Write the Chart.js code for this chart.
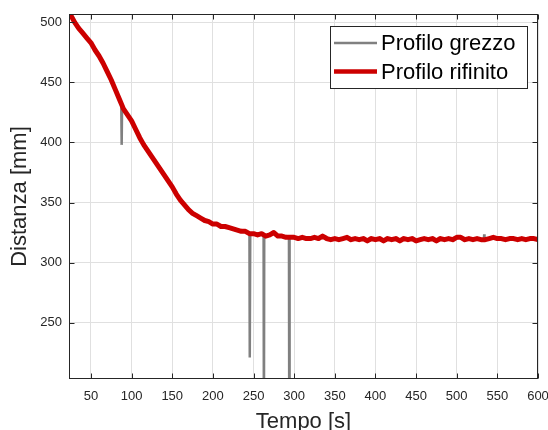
<!DOCTYPE html>
<html>
<head>
<meta charset="utf-8">
<script src="https://cdn.jsdelivr.net/npm/chart.js@4.4.1/dist/chart.umd.min.js"></script>
<style>
  html, body { margin: 0; padding: 0; background: #fff; }
</style>
</head>
<body>
<canvas id="mycanvas" width="548" height="430"></canvas>
<script>
// tempo [s] e distanza [mm]
var time = [26, 30, 35, 40, 45, 50, 55, 60, 65, 70, 75, 80, 85, 90, 95, 100,
  105, 110, 115, 120, 125, 130, 135, 140, 145, 150, 155, 160, 165, 170, 175, 180,
  185, 190, 195, 200, 205, 210, 215, 220, 225, 230, 235, 240, 245, 250, 255, 260,
  265, 270, 275, 280, 285, 290, 295, 300, 305, 310, 315, 320, 325, 330, 335, 340,
  345, 350, 355, 360, 365, 370, 375, 380, 385, 390, 395, 400, 405, 410, 415, 420,
  425, 430, 435, 440, 445, 450, 455, 460, 465, 470, 475, 480, 485, 490, 495, 500,
  505, 510, 515, 520, 525, 530, 535, 540, 545, 550, 555, 560, 565, 570, 575, 580,
  585, 590, 595, 600];

var refined = [505, 500, 495, 491, 487, 483, 477, 472, 466, 459, 452, 444, 436, 428, 423, 418,
  411, 404, 398, 393, 388, 383, 378, 373, 368, 363, 357, 352, 348, 344, 341, 339,
  337, 335, 334, 332, 332, 330, 330, 329, 328, 327, 326, 326, 324, 324, 323, 324,
  322, 323, 325, 322, 322, 321, 321, 321, 320, 321, 320, 320, 321, 320, 322, 320,
  319, 320, 319, 320, 321, 319, 320, 319, 320, 318, 320, 319, 320, 318, 320, 319,
  320, 318, 320, 319, 320, 318, 319, 320, 319, 320, 318, 320, 319, 320, 319, 321,
  321, 319, 320, 319, 320, 319, 319, 320, 321, 320, 320, 319, 320, 320, 319, 320,
  319, 320, 320, 319];

// picchi del profilo grezzo
var spikeTime = [87.3, 87.8, 88.3, 245.2, 245.6, 246.0, 262.4, 262.8, 263.2,
  293.6, 294.0, 294.4, 533.4, 533.8, 534.2];
var spikeDist = [431, 398, 430, 324, 221, 324, 323, 150, 323,
  321, 150, 321, 319, 323.5, 319];

var xTicks = [50, 100, 150, 200, 250, 300, 350, 400, 450, 500, 550, 600];
var yTicks = [250, 300, 350, 400, 450, 500];
var seriesNames = ["Profilo grezzo", "Profilo rifinito"];

var FONT = "'Liberation Sans', Arial, sans-serif";

var refinedPoints = time.map(function(t, i) { return {x: t, y: refined[i]}; });
var rawPoints = refinedPoints.concat(spikeTime.map(function(t, i) {
  return {x: t, y: spikeDist[i]};
})).sort(function(a, b) { return a.x - b.x; });

// cornice e tacche interne (stile matlab)
var frame = {
  id: 'frame',
  afterDatasetsDraw: function(chart) {
    var ctx = chart.ctx, a = chart.chartArea;
    var xs = chart.scales.x, ys = chart.scales.y;
    var L = Math.round(a.left) + 0.5, R = Math.round(a.right) - 0.5;
    var T = Math.round(a.top) + 0.5, B = Math.round(a.bottom) - 0.5;
    ctx.save();
    ctx.strokeStyle = '#262626';
    ctx.lineWidth = 1;
    ctx.strokeRect(L, T, R - L, B - T);
    ctx.beginPath();
    xTicks.forEach(function(v) {
      var px = Math.round(xs.getPixelForValue(v)) + 0.5;
      ctx.moveTo(px, B); ctx.lineTo(px, B - 5);
      ctx.moveTo(px, T); ctx.lineTo(px, T + 5);
    });
    yTicks.forEach(function(v) {
      var py = Math.round(ys.getPixelForValue(v)) + 0.5;
      ctx.moveTo(L, py); ctx.lineTo(L + 5, py);
      ctx.moveTo(R, py); ctx.lineTo(R - 5, py);
    });
    ctx.stroke();
    ctx.restore();
  }
};

var legendBox = {
  id: 'legendBox',
  afterDraw: function(chart) {
    var ctx = chart.ctx, a = chart.chartArea;
    var w = 197, h = 62;
    var x0 = Math.round(a.right) - 11 - w, y0 = Math.round(a.top) + 12;
    ctx.save();
    ctx.fillStyle = '#fff';
    ctx.fillRect(x0, y0, w, h);
    ctx.strokeStyle = '#262626';
    ctx.lineWidth = 1;
    ctx.strokeRect(x0 + 0.5, y0 + 0.5, w, h);
    var rows = [17, 45.5];
    chart.data.datasets.forEach(function(ds, i) {
      var y = y0 + rows[i];
      ctx.beginPath();
      ctx.strokeStyle = ds.borderColor;
      ctx.lineWidth = i === 0 ? 2.5 : 4.5;
      ctx.moveTo(x0 + 4, y); ctx.lineTo(x0 + 47, y);
      ctx.stroke();
      ctx.fillStyle = '#000';
      ctx.font = '22px ' + FONT;
      ctx.textBaseline = 'middle';
      ctx.fillText(ds.label, x0 + 51, y + 1);
    });
    ctx.restore();
  }
};

var ctx = document.getElementById('mycanvas');

var LineGraph = new Chart(ctx, {
  type: 'line',
  data: {
    datasets: [
      {
        label: seriesNames[0],
        data: rawPoints,
        borderColor: '#808080',
        borderWidth: 2.5,
        pointRadius: 0,
        tension: 0,
        fill: false,
        order: 2,
        clip: 0
      },
      {
        label: seriesNames[1],
        data: refinedPoints,
        borderColor: '#cc0000',
        borderWidth: 5,
        borderCapStyle: 'round',
        borderJoinStyle: 'round',
        pointRadius: 0,
        tension: 0,
        fill: false,
        order: 1
      }
    ]
  },
  options: {
    responsive: false,
    animation: false,
    devicePixelRatio: 1,
    layout: { padding: { top: 14, right: 10, left: 0, bottom: 0 } },
    plugins: { legend: { display: false }, tooltip: { enabled: false } },
    scales: {
      x: {
        type: 'linear',
        min: 23, max: 600,
        afterBuildTicks: function(s) { s.ticks = xTicks.map(function(v) { return {value: v}; }); },
        afterFit: function(s) { s.height = 51; s.paddingLeft = 0; s.paddingRight = 0; },
        grid: { color: '#e0e0e0', drawTicks: false },
        border: { display: false },
        ticks: { color: '#262626', font: { family: FONT, size: 13 }, padding: 10, maxRotation: 0 },
        title: { display: true, text: 'Tempo [s]', color: '#262626',
          font: { family: FONT, size: 22, lineHeight: 1 }, padding: { top: 0, bottom: -3 } }
      },
      y: {
        type: 'linear',
        min: 203, max: 507,
        afterBuildTicks: function(s) { s.ticks = yTicks.map(function(v) { return {value: v}; }); },
        afterFit: function(s) { s.width = 69; s.paddingTop = 0; s.paddingBottom = 0; },
        grid: { color: '#e0e0e0', drawTicks: false },
        border: { display: false },
        ticks: { color: '#262626', font: { family: FONT, size: 13 }, padding: 7 },
        title: { display: true, text: 'Distanza [mm]', color: '#262626',
          font: { family: FONT, size: 22, lineHeight: 1 }, padding: { top: 9, bottom: 0 } }
      }
    }
  },
  plugins: [frame, legendBox]
});
</script>
</body>
</html>
